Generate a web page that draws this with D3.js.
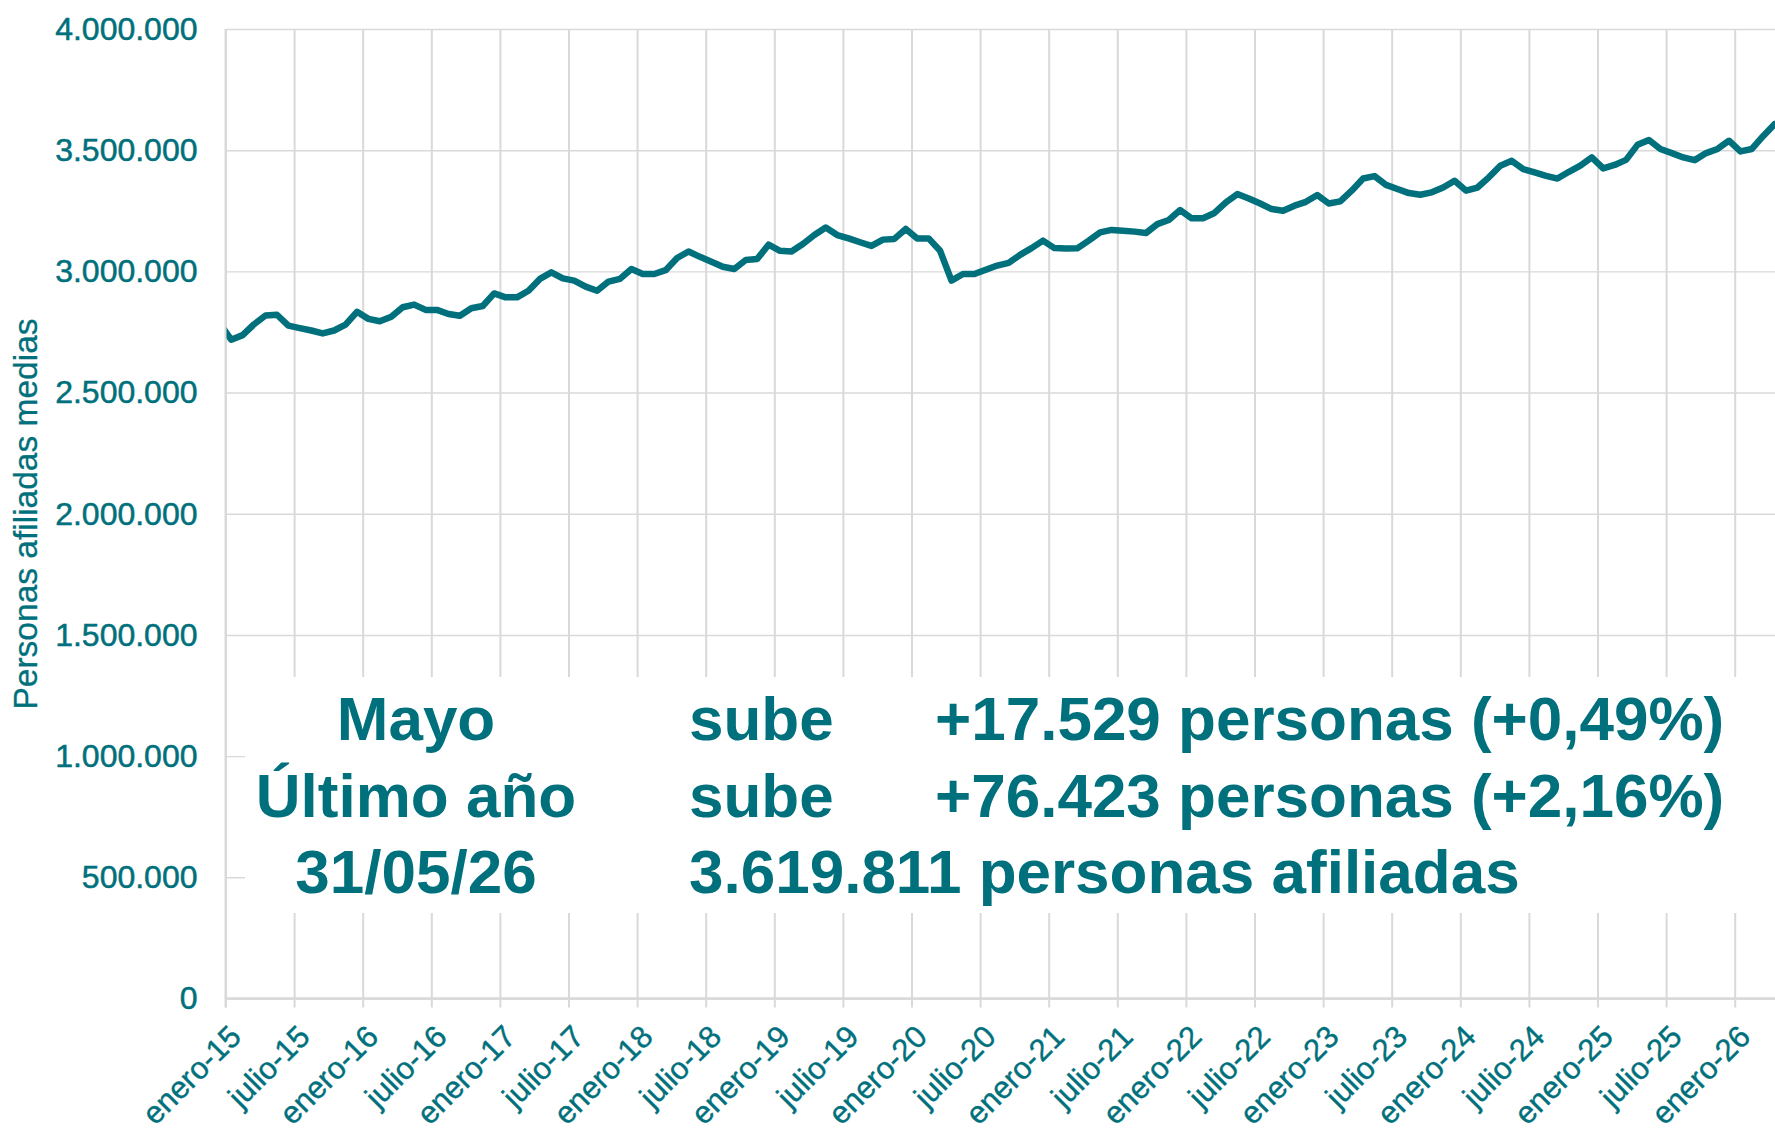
<!DOCTYPE html>
<html>
<head>
<meta charset="utf-8">
<script src="https://cdn.jsdelivr.net/npm/d3@7"></script>
<style>
  html, body { margin: 0; padding: 0; background: #fff; }
  svg { display: block; font-family: "Liberation Sans", Arial, Helvetica, sans-serif; }
</style>
</head>
<body>
<svg id="chart" width="1775" height="1132"></svg>
<script>
// Afiliación media mensual, de diciembre 2014 a mayo 2026 (personas)
var afiliadas = [
  2785000,
  2718000, 2737000, 2782000, 2818000, 2821000, 2776000, 2766000, 2756000, 2744000, 2756000, 2780000, 2833000,
  2804000, 2794000, 2813000, 2852000, 2863000, 2841000, 2841000, 2824000, 2817000, 2848000, 2857000, 2909000,
  2893000, 2893000, 2920000, 2969000, 2996000, 2971000, 2962000, 2937000, 2920000, 2958000, 2969000, 3010000,
  2989000, 2989000, 3005000, 3055000, 3082000, 3060000, 3040000, 3019000, 3010000, 3047000, 3051000, 3110000,
  3085000, 3082000, 3113000, 3150000, 3181000, 3150000, 3136000, 3120000, 3105000, 3131000, 3134000, 3175000,
  3136000, 3136000, 3085000, 2962000, 2989000, 2989000, 3007000, 3024000, 3035000, 3068000, 3096000, 3127000,
  3096000, 3094000, 3095000, 3127000, 3161000, 3171000, 3168000, 3164000, 3158000, 3195000, 3212000, 3253000,
  3219000, 3219000, 3241000, 3285000, 3319000, 3301000, 3280000, 3257000, 3250000, 3271000, 3287000, 3315000,
  3280000, 3289000, 3333000, 3383000, 3393000, 3357000, 3340000, 3323000, 3316000, 3326000, 3346000, 3374000,
  3333000, 3346000, 3388000, 3436000, 3456000, 3422000, 3408000, 3394000, 3383000, 3411000, 3436000, 3470000,
  3425000, 3439000, 3460000, 3522000, 3542000, 3505000, 3488000, 3470000, 3459000, 3488000, 3505000, 3539000,
  3495000, 3505000, 3559000, 3608000, 3625000
];
var primerMes = -1; // diciembre 2014, meses contados desde enero 2015

// Etiquetas del eje X (una cada 6 meses)
var etiquetasX = ['enero-15','julio-15','enero-16','julio-16','enero-17','julio-17','enero-18','julio-18',
  'enero-19','julio-19','enero-20','julio-20','enero-21','julio-21','enero-22','julio-22','enero-23','julio-23',
  'enero-24','julio-24','enero-25','julio-25','enero-26'];

var ticksY = [0, 500000, 1000000, 1500000, 2000000, 2500000, 3000000, 3500000, 4000000];
var tituloY = 'Personas afiliadas medias';

// Cuadro de texto
var col1 = ['Mayo', 'Último año', '31/05/26'];
var col2 = ['sube', 'sube', '3.619.811 personas afiliadas'];
var col3 = ['+17.529 personas (+0,49%)', '+76.423 personas (+2,16%)', ''];

var teal = '#00707c';
var grid = '#d9d9d9';

var svg = d3.select('#chart');
var width = 1775, height = 1132;
var plotLeft = 225.5, plotTop = 29, plotBottom = 998.5;

var es = d3.formatLocale({decimal: ',', thousands: '.', grouping: [3], currency: ['', ' €']});
var fmt = es.format(',');

var x = d3.scaleLinear().domain([0, 132]).range([plotLeft, 1734.7]);
var y = d3.scaleLinear().domain([0, 4000000]).range([plotBottom, plotTop]);

//horizontal grid lines
var gy = svg.append('g').attr('transform', 'translate(' + plotLeft + ',0)')
  .call(d3.axisLeft(y).tickValues(ticksY).tickSize(-(width - plotLeft)).tickFormat(''));
gy.select('.domain').remove();
gy.selectAll('line').attr('stroke', grid).attr('stroke-width', 1.4);

//vertical grid lines, every 6 months
var tv = etiquetasX.map(function(d, i) { return i * 6; });
var gx = svg.append('g').attr('transform', 'translate(0,' + plotBottom + ')')
  .call(d3.axisBottom(x).tickValues(tv).tickSize(-(plotBottom - plotTop)).tickFormat(''));
gx.select('.domain').remove();
gx.selectAll('line').attr('stroke', grid).attr('stroke-width', 2);

//the line
svg.append('defs').append('clipPath').attr('id', 'plotclip')
  .append('rect').attr('x', plotLeft).attr('y', 0).attr('width', width - plotLeft).attr('height', height);

var line = d3.line()
  .x(function(d, i) { return x(primerMes + i + 0.5); })
  .y(function(d) { return y(d); });

svg.append('path').datum(afiliadas)
  .attr('clip-path', 'url(#plotclip)')
  .attr('fill', 'none').attr('stroke', teal).attr('stroke-width', 6.5)
  .attr('stroke-linejoin', 'round').attr('stroke-linecap', 'round')
  .attr('d', line);

//white text box over the grid
svg.append('rect').attr('x', 245).attr('y', 677).attr('width', width - 245).attr('height', 236).attr('fill', '#fff');

//x axis line, ticks and labels
var ax = svg.append('g').attr('transform', 'translate(0,' + plotBottom + ')')
  .call(d3.axisBottom(x).tickValues(tv).tickSize(9).tickFormat(function(d, i) { return etiquetasX[i]; }));
ax.select('.domain').attr('d', 'M' + plotLeft + ',0H' + width).attr('stroke', grid).attr('stroke-width', 2.5);
ax.selectAll('line').attr('stroke', grid).attr('stroke-width', 2);
ax.selectAll('text')
  .attr('y', null).attr('dy', null)
  .attr('text-anchor', 'end')
  .attr('transform', 'translate(17,40) rotate(-45)')
  .attr('fill', teal).attr('stroke', teal).attr('stroke-width', 0.4)
  .attr('font-size', 31)
  .attr('font-family', '"Liberation Sans", Arial, Helvetica, sans-serif');

//left border
svg.append('line').attr('x1', plotLeft).attr('x2', plotLeft).attr('y1', plotTop).attr('y2', plotBottom + 9)
  .attr('stroke', grid).attr('stroke-width', 2);

//y axis labels
var ay = svg.append('g').attr('transform', 'translate(' + plotLeft + ',0)')
  .call(d3.axisLeft(y).tickValues(ticksY).tickSize(0).tickPadding(28).tickFormat(fmt));
ay.select('.domain').remove();
ay.selectAll('text').attr('fill', teal).attr('stroke', teal).attr('stroke-width', 0.5)
  .attr('font-size', 32)
  .attr('font-family', '"Liberation Sans", Arial, Helvetica, sans-serif');

svg.append('text')
  .attr('transform', 'translate(25,514) rotate(-90)')
  .attr('text-anchor', 'middle').attr('dy', '0.35em')
  .attr('fill', teal).attr('stroke', teal).attr('stroke-width', 0.3)
  .attr('font-size', 33.5)
  .text(tituloY);

//text box content
var filas = [740, 817, 893];
var tb = svg.append('g').attr('fill', teal).attr('font-weight', 'bold').attr('font-size', 62);
tb.selectAll('.c1').data(col1).enter().append('text').attr('class', 'c1')
  .attr('x', 416).attr('y', function(d, i) { return filas[i]; })
  .attr('text-anchor', 'middle').text(function(d) { return d; });
tb.selectAll('.c2').data(col2).enter().append('text').attr('class', 'c2')
  .attr('x', 689).attr('y', function(d, i) { return filas[i]; })
  .text(function(d) { return d; });
tb.selectAll('.c3').data(col3).enter().append('text').attr('class', 'c3')
  .attr('x', 935).attr('y', function(d, i) { return filas[i]; })
  .text(function(d) { return d; });
</script>
</body>
</html>
